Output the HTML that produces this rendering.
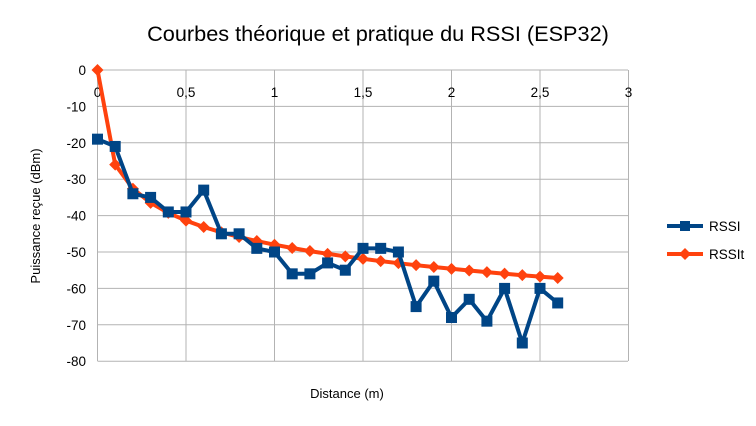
<!DOCTYPE html>
<html><head><meta charset="utf-8"><style>
body{margin:0;background:#fff;}
svg{display:block;font-family:"Liberation Sans",sans-serif;}
</style></head><body>
<svg id="s" width="756" height="426" xmlns="http://www.w3.org/2000/svg">
<rect width="756" height="426" fill="#fff"/>
<text x="378" y="41" font-size="21.7" text-anchor="middle" fill="#000">Courbes théorique et pratique du RSSI (ESP32)</text>
<text x="0" y="0" font-size="13" text-anchor="middle" transform="translate(40,216) rotate(-90)">Puissance reçue (dBm)</text>
<text x="347" y="398" font-size="13" text-anchor="middle">Distance (m)</text>
<g id="grid"></g>
<g id="series"></g>
<g>
<line x1="667" y1="226" x2="703" y2="226" stroke="#004586" stroke-width="4"/>
<rect x="680" y="221" width="10" height="10" fill="#004586"/>
<text x="709" y="231" font-size="13.5">RSSI</text>
<line x1="667" y1="254" x2="703" y2="254" stroke="#ff420e" stroke-width="4"/>
<path d="M685 248 L691 254 L685 260 L679 254Z" fill="#ff420e"/>
<text x="709" y="259" font-size="13.5">RSSIt</text>
</g>
</svg>
<script>
var X0=97.5,XS=177,Y0=70,YS=3.64;
function px(d){return X0+d*XS} function py(v){return Y0-v*YS}
var g='';
for(var v=0;v>=-80;v-=10){var y=py(v);g+='<line x1="'+X0+'" y1="'+y+'" x2="628" y2="'+y+'" stroke="#b3b3b3" stroke-width="1"/>';
g+='<text x="86" y="'+(y+5)+'" font-size="13.5" text-anchor="end">'+v+'</text>';}
for(var i=0;i<=6;i++){var x=px(i*0.5);g+='<line x1="'+x+'" y1="70" x2="'+x+'" y2="361" stroke="#b3b3b3" stroke-width="1"/>';
g+='<text x="'+x+'" y="97" font-size="13.5" text-anchor="middle">'+String(i*0.5).replace('.',',')+'</text>';}
document.getElementById('grid').innerHTML=g;
var r=[-19,-21,-34,-35,-39,-39,-33,-45,-45,-49,-50,-56,-56,-53,-55,-49,-49,-50,-65,-58,-68,-63,-69,-60,-75,-60,-64];
var t=[0];for(var i=1;i<=26;i++)t.push(-26-22*Math.log10(i));
var s='';
function line(a,c){var p=a.map(function(v,i){return px(i*0.1).toFixed(1)+','+py(v).toFixed(1)}).join(' ');
return '<polyline points="'+p+'" fill="none" stroke="'+c+'" stroke-width="4" stroke-linejoin="round"/>';}
s+=line(t,'#ff420e');
t.forEach(function(v,i){var x=px(i*0.1),y=py(v);s+='<path d="M'+x+' '+(y-6)+' L'+(x+6)+' '+y+' L'+x+' '+(y+6)+' L'+(x-6)+' '+y+'Z" fill="#ff420e"/>';});
s+=line(r,'#004586');
r.forEach(function(v,i){var x=px(i*0.1),y=py(v);s+='<rect x="'+(x-5.5)+'" y="'+(y-5.5)+'" width="11" height="11" fill="#004586"/>';});
document.getElementById('series').innerHTML=s;
</script>
</body></html>
